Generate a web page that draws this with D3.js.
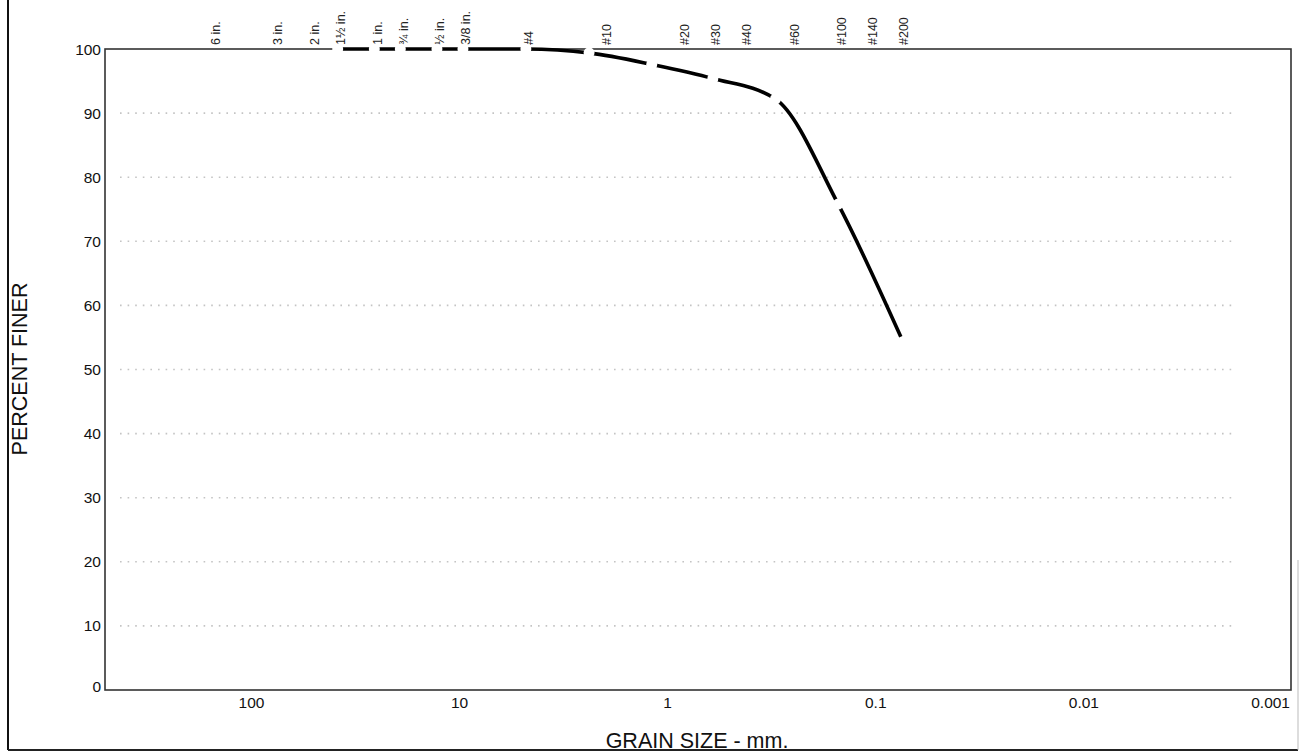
<!DOCTYPE html>
<html>
<head>
<meta charset="utf-8">
<script src="https://cdn.jsdelivr.net/npm/d3@7"></script>
<style>
  html, body { margin: 0; padding: 0; background: #fff; }
  svg { display: block; font-family: "Liberation Sans", Arial, sans-serif; }
</style>
</head>
<body>
<svg id="chart" width="1307" height="753"></svg>
<script>
// ---- data ----
const sieveLabels = ["6 in.", "3 in.", "2 in.", "1½ in.", "1 in.", "¾ in.", "½ in.", "3/8 in.", "#4", "#10", "#20", "#30", "#40", "#60", "#100", "#140", "#200"];
const sieveSizes  = [152.4, 76.2, 50.8, 38.1, 25.4, 19.05, 12.7, 9.525, 4.75, 2.0, 0.85, 0.6, 0.425, 0.25, 0.15, 0.106, 0.075];
const testSizes    = [38.1, 25.4, 19.05, 12.7, 9.525, 4.75, 2.36, 1.18, 0.6, 0.3, 0.15, 0.075];
const percentFiner = [100, 100, 100, 100, 100, 100, 99.4, 97.6, 95.4, 92.2, 75.8, 55.1];
const xTickValues = [100, 10, 1, 0.1, 0.01, 0.001];
const xTickLabels = ["100", "10", "1", "0.1", "0.01", "0.001"];
const yTickValues = [0, 10, 20, 30, 40, 50, 60, 70, 80, 90, 100];
const yGridValues = [10, 20, 30, 40, 50, 60, 70, 80, 90];

// ---- layout ----
const L = 105, R = 1291, T = 49, B = 690;
const svg = d3.select("#chart");

const x = d3.scaleLog().domain([500, 0.001]).range([L, R]);
const y = d3.scaleLinear().domain([0, 100]).range([B, T]);

// outer frame
svg.append("line").attr("x1", 8).attr("x2", 8).attr("y1", 0).attr("y2", 750)
  .attr("stroke", "#111").attr("stroke-width", 2);
svg.append("line").attr("x1", 8).attr("x2", 1298).attr("y1", 750).attr("y2", 750)
  .attr("stroke", "#222").attr("stroke-width", 2);
svg.append("line").attr("x1", 1298).attr("x2", 1298).attr("y1", 560).attr("y2", 750)
  .attr("stroke", "#bbb").attr("stroke-width", 1);

// dotted grid lines
svg.append("g").selectAll("line").data(yGridValues).join("line")
  .attr("x1", 120).attr("x2", 1236)
  .attr("y1", d => y(d)).attr("y2", d => y(d))
  .attr("stroke", "#c4c4c4").attr("stroke-width", 1.6)
  .attr("stroke-dasharray", "1.6,6");

// plot border
svg.append("rect").attr("x", L).attr("y", T).attr("width", R - L).attr("height", B - T)
  .attr("fill", "none").attr("stroke", "#333").attr("stroke-width", 1.6);

// y axis labels
svg.append("g").selectAll("text").data(yTickValues).join("text")
  .attr("x", 101).attr("y", d => y(d) - (d === 0 ? 4 : 0)).attr("dy", "0.36em")
  .attr("text-anchor", "end").attr("font-size", 15.5).attr("fill", "#111")
  .text(d => d);

// x axis labels
svg.append("g").selectAll("text").data(xTickValues).join("text")
  .attr("x", (d, i) => i === xTickValues.length - 1 ? R - 1 : x(d) + 1)
  .attr("y", 708)
  .attr("text-anchor", (d, i) => i === xTickValues.length - 1 ? "end" : "middle")
  .attr("font-size", 15.5).attr("fill", "#111")
  .text((d, i) => xTickLabels[i]);

// axis titles
svg.append("text").attr("x", 697).attr("y", 748).attr("text-anchor", "middle")
  .attr("font-size", 21.5).attr("fill", "#111").text("GRAIN SIZE - mm.");
svg.append("text").attr("transform", "translate(27,369) rotate(-90)")
  .attr("text-anchor", "middle").attr("font-size", 21.5).attr("fill", "#111")
  .text("PERCENT FINER");

// sieve labels along top
svg.append("g").selectAll("text").data(sieveSizes).join("text")
  .attr("transform", d => `translate(${x(d) + 3},45) rotate(-90)`)
  .attr("dy", "0.35em").attr("text-anchor", "start")
  .attr("font-size", 12.5).attr("fill", "#222")
  .text((d, i) => sieveLabels[i]);

// gradation curve
const pts = testSizes.map((s, i) => [x(s), y(percentFiner[i])]);
const line = d3.line().curve(d3.curveMonotoneX);
svg.append("path").attr("d", line(pts))
  .attr("fill", "none").attr("stroke", "#000").attr("stroke-width", 3.6)
  .attr("stroke-linejoin", "round");

// blank symbols at data points (gaps in the line)
svg.append("g").selectAll("circle").data(pts.slice(0, -1)).join("circle")
  .attr("cx", d => d[0]).attr("cy", d => d[1]).attr("r", 5.5)
  .attr("fill", "#fff");
</script>
</body>
</html>
